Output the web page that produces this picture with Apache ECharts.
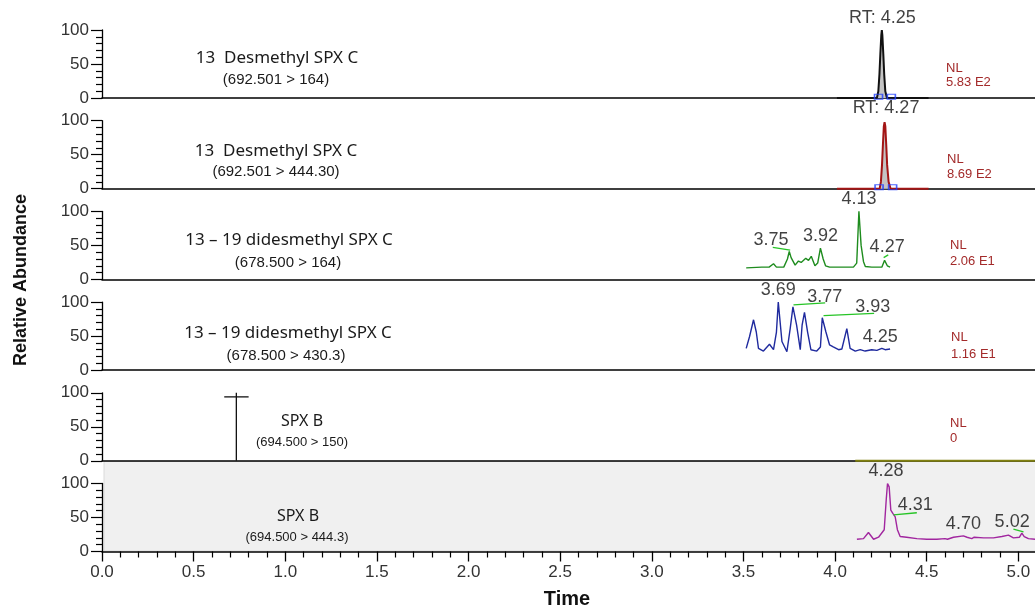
<!DOCTYPE html>
<html>
<head>
<meta charset="utf-8">
<script src="https://cdn.jsdelivr.net/npm/echarts@6/dist/echarts.min.js"></script>
<style>
html, body { margin: 0; padding: 0; background: #fff; }
#chart { width: 1035px; height: 612px; }
</style>
</head>
<body>
<div id="chart"></div>
<script>
// chromatogram traces: retention time (min) and relative abundance (%)
const p1Time = [4.01, 4.228, 4.236, 4.242, 4.247, 4.252, 4.255, 4.258, 4.263, 4.268, 4.274, 4.283, 4.51]
const p1Abund = [0, 0, 10, 35, 65, 92, 100, 92, 65, 35, 10, 0, 0]

const p2Time = [4.01, 4.243, 4.25, 4.256, 4.261, 4.266, 4.27, 4.274, 4.279, 4.284, 4.292, 4.303, 4.51]
const p2Abund = [0, 0, 10, 35, 65, 92, 98, 92, 65, 35, 10, 0, 0]

const p3Time = [3.515, 3.60, 3.64, 3.664, 3.68, 3.72, 3.74, 3.75, 3.76, 3.782, 3.80, 3.815, 3.84, 3.855, 3.87, 3.89, 3.905, 3.92, 3.935, 3.948, 3.97, 4.00, 4.05, 4.10, 4.118, 4.13, 4.142, 4.155, 4.165, 4.20, 4.255, 4.27, 4.285, 4.30]
const p3Abund = [17, 18, 18, 23, 18, 18, 30, 41, 32, 21, 27, 25, 31, 28, 34, 20, 24, 46, 30, 20, 18, 18, 18, 18, 24, 100, 50, 26, 19, 18, 18, 28, 20, 18]

const p4Time = [3.515, 3.533, 3.54, 3.555, 3.57, 3.582, 3.609, 3.642, 3.664, 3.68, 3.69, 3.71, 3.737, 3.755, 3.77, 3.79, 3.81, 3.82, 3.833, 3.85, 3.868, 3.90, 3.92, 3.93, 3.95, 3.97, 3.99, 4.019, 4.037, 4.064, 4.082, 4.11, 4.137, 4.164, 4.20, 4.228, 4.255, 4.273, 4.30]
const p4Abund = [32, 49, 47, 74, 56, 32, 28, 38, 30, 56, 100, 42, 27, 61, 93, 66, 30, 66, 85, 56, 30, 28, 34, 77, 56, 37, 34, 30, 31, 61, 32, 28, 30, 28, 30, 29, 32, 30, 31]

const p5Time = [4.11, 5.09]
const p5Abund = [0, 0]

const p6Time = [4.119, 4.155, 4.182, 4.21, 4.237, 4.268, 4.279, 4.286, 4.295, 4.304, 4.315, 4.328, 4.34, 4.355, 4.39, 4.446, 4.50, 4.555, 4.60, 4.613, 4.646, 4.70, 4.72, 4.746, 4.759, 4.81, 4.864, 4.91, 4.946, 4.973, 5.006, 5.019, 5.032, 5.055, 5.092]
const p6Abund = [18, 19, 28, 18, 21, 32, 76, 100, 95, 61, 56, 51, 32, 22, 21, 19, 18, 18, 19, 18, 21, 23, 21, 19, 21, 20, 20, 22, 24, 20, 21, 27, 22, 19, 18]

// peak labels: [time, abundance, text]
const p1Labels = [[4.258, 118, 'RT: 4.25']]
const p2Labels = [[4.278, 118, 'RT: 4.27']]
const p3Labels = [[3.65, 58, '3.75'], [3.92, 64, '3.92'], [4.13, 118, '4.13'], [4.284, 48, '4.27']]
const p4Labels = [[3.69, 118, '3.69'], [3.943, 108, '3.77'], [4.205, 93, '3.93'], [4.246, 49, '4.25']]
const p5Labels = []
const p6Labels = [[4.278, 119, '4.28'], [4.437, 68, '4.31'], [4.70, 41, '4.70'], [4.966, 44, '5.02']]

// label leader lines: [t1, a1, t2, a2]
const p3Leaders = [[3.66, 47, 3.755, 43], [4.265, 32, 4.29, 36]]
const p4Leaders = [[3.773, 96, 3.946, 99], [3.937, 80, 4.213, 83.5]]
const p6Leaders = [[4.319, 54, 4.446, 57], [4.973, 33, 5.028, 29]]

// integration boundary markers
const p1Boxes = [[4.237, 2], [4.307, 2]]
const p2Boxes = [[4.24, 2], [4.314, 2]]

// event marker on SPX B (694.500 > 150)
const p5MarkerTime = 0.733
const p5MarkerTop = 100
const p5CrossTime = [0.667, 0.80]
const p5CrossAbund = 94

const panelTitles = ['13  Desmethyl SPX C', '13  Desmethyl SPX C', '13 – 19 didesmethyl SPX C', '13 – 19 didesmethyl SPX C', 'SPX B', 'SPX B']
const panelTransitions = ['(692.501 > 164)', '(692.501 > 444.30)', '(678.500 > 164)', '(678.500 > 430.3)', '(694.500 > 150)', '(694.500 > 444.3)']
const panelNL = ['5.83 E2', '8.69 E2', '2.06 E1', '1.16 E1', '0', null]

const zip = (a, b) => a.map((v, i) => [v, b[i]])

const panels = [
  { time: p1Time, abund: p1Abund, color: '#111111', width: 2, area: true, labels: p1Labels, leaders: [], boxes: p1Boxes },
  { time: p2Time, abund: p2Abund, color: '#a31515', width: 2, area: true, labels: p2Labels, leaders: [], boxes: p2Boxes },
  { time: p3Time, abund: p3Abund, color: '#1e8c1e', width: 1.4, area: false, labels: p3Labels, leaders: p3Leaders, boxes: [] },
  { time: p4Time, abund: p4Abund, color: '#1f2a9e', width: 1.4, area: false, labels: p4Labels, leaders: p4Leaders, boxes: [] },
  { time: p5Time, abund: p5Abund, color: '#808010', width: 2, area: false, labels: p5Labels, leaders: [], boxes: [] },
  { time: p6Time, abund: p6Abund, color: '#a1269f', width: 1.4, area: false, labels: p6Labels, leaders: p6Leaders, boxes: [] }
]

const PANEL_TOP = 30
const PANEL_STEP = 90.7
const PANEL_H = 68

// the time axis runs past the right edge of the window (5.0 sits near x=1019)
const grids = panels.map((p, i) => ({
  left: 102,
  width: 1008,
  top: PANEL_TOP + PANEL_STEP * i,
  height: PANEL_H,
  outerBoundsMode: 'none',
  containLabel: false
}))

const xAxes = panels.map((p, i) => {
  const last = i === panels.length - 1
  return {
    gridIndex: i,
    type: 'value',
    min: 0,
    max: 5.5,
    interval: 0.5,
    axisLine: { show: true, onZero: false, lineStyle: { color: '#000', width: 1.5 } },
    axisTick: { show: last, length: 10, lineStyle: { color: '#000', width: 1.3 } },
    minorTick: { show: last, splitNumber: 5, length: 6, lineStyle: { color: '#000', width: 1.2 } },
    axisLabel: {
      show: last,
      fontSize: 17,
      color: '#333',
      margin: 12,
      fontFamily: 'Liberation Sans, Arial, sans-serif',
      formatter: v => v.toFixed(1)
    },
    splitLine: { show: false },
    minorSplitLine: { show: false }
  }
})

const yAxes = panels.map((p, i) => ({
  gridIndex: i,
  type: 'value',
  min: 0,
  max: 100,
  interval: 50,
  axisLine: { show: true, lineStyle: { color: '#000', width: 1.3 } },
  axisTick: { show: true, length: 11, lineStyle: { color: '#000', width: 1.2 } },
  minorTick: { show: true, splitNumber: 5, length: 6, lineStyle: { color: '#000', width: 1.2 } },
  axisLabel: { fontSize: 17, color: '#333', margin: 13, fontFamily: 'Liberation Sans, Arial, sans-serif' },
  splitLine: { show: false }
}))

const series = []
panels.forEach((p, i) => {
  series.push({
    type: 'line',
    xAxisIndex: i,
    yAxisIndex: i,
    data: zip(p.time, p.abund),
    symbol: 'none',
    clip: false,
    z: 3,
    lineStyle: { color: p.color, width: p.width },
    areaStyle: p.area ? { color: '#c4c4c4', opacity: 1 } : null
  })
  p.leaders.forEach(l => {
    series.push({
      type: 'line',
      xAxisIndex: i,
      yAxisIndex: i,
      data: [[l[0], l[1]], [l[2], l[3]]],
      symbol: 'none',
      clip: false,
      z: 4,
      lineStyle: { color: '#26c426', width: 1.3 }
    })
  })
  if (p.boxes.length) {
    series.push({
      type: 'scatter',
      xAxisIndex: i,
      yAxisIndex: i,
      data: p.boxes,
      symbol: 'rect',
      symbolSize: [8, 5],
      clip: false,
      z: 5,
      itemStyle: { color: 'rgba(255,255,255,0)', borderColor: '#1f3fff', borderWidth: 1.3 }
    })
  }
  if (p.labels.length) {
    series.push({
      type: 'scatter',
      xAxisIndex: i,
      yAxisIndex: i,
      data: p.labels.map(l => ({ value: [l[0], l[1]], name: l[2] })),
      symbolSize: 1,
      clip: false,
      z: 6,
      itemStyle: { color: 'rgba(0,0,0,0)' },
      label: {
        show: true,
        position: 'inside',
        formatter: '{b}',
        fontSize: 18,
        color: '#111',
        fontFamily: 'Liberation Sans, Arial, sans-serif'
      }
    })
  }
})

// vertical event marker with cross bar in the SPX B (> 150) panel
series.push({
  type: 'line',
  xAxisIndex: 4,
  yAxisIndex: 4,
  data: [[p5MarkerTime, 0], [p5MarkerTime, p5MarkerTop]],
  symbol: 'none',
  clip: false,
  lineStyle: { color: '#111', width: 1.3 }
})
series.push({
  type: 'line',
  xAxisIndex: 4,
  yAxisIndex: 4,
  data: [[p5CrossTime[0], p5CrossAbund], [p5CrossTime[1], p5CrossAbund]],
  symbol: 'none',
  clip: false,
  lineStyle: { color: '#111', width: 1.3 }
})

// texts
const titleX = [277, 276, 289, 288, 302, 298]
const titleY = [58, 151, 240, 333, 421, 516]
const transX = [276, 276, 288, 286, 302, 297]
const transY = [80, 172, 263, 356, 442, 537]
const titleSize = [17, 17, 17, 17, 16, 16]
const transSize = [15, 15, 15, 15, 13, 13]
const nlX = [946, 947, 950, 951, 950]
const nlY = [68, 159, 245.5, 337, 423]
const nlValY = [82.5, 174, 261.5, 354, 438.5]

const graphics = [
  {
    type: 'rect',
    z: -10,
    shape: { x: 104, y: 461.5, width: 935, height: 89.5 },
    style: { fill: '#f0f0f0', stroke: '#dadada', lineWidth: 1 }
  },
  {
    type: 'text',
    x: 21,
    y: 280,
    rotation: Math.PI / 2,
    style: {
      text: 'Relative Abundance',
      fill: '#111',
      fontSize: 18,
      fontWeight: 'bold',
      fontFamily: 'Liberation Sans Narrow, Arial Narrow, Liberation Sans, sans-serif',
      align: 'center',
      verticalAlign: 'middle'
    }
  },
  {
    type: 'text',
    x: 567,
    y: 599,
    style: {
      text: 'Time',
      fill: '#111',
      fontSize: 20,
      fontWeight: 'bold',
      fontFamily: 'Liberation Sans Narrow, Arial Narrow, Liberation Sans, sans-serif',
      align: 'center',
      verticalAlign: 'middle'
    }
  }
]

panelTitles.forEach((t, i) => {
  graphics.push({
    type: 'text',
    x: titleX[i],
    y: titleY[i],
    style: { text: t, fill: '#1a1a1a', fontSize: titleSize[i], fontFamily: 'Noto Sans, Open Sans, sans-serif', align: 'center', verticalAlign: 'middle' }
  })
  graphics.push({
    type: 'text',
    x: transX[i],
    y: transY[i],
    style: { text: panelTransitions[i], fill: '#1a1a1a', fontSize: transSize[i], fontFamily: 'Liberation Sans, Arial, sans-serif', align: 'center', verticalAlign: 'middle' }
  })
})

panelNL.forEach((v, i) => {
  if (v === null) return
  const font = { fill: '#a32a2a', fontSize: 13, fontFamily: 'Liberation Sans Narrow, Arial Narrow, Liberation Sans, sans-serif', align: 'left', verticalAlign: 'middle' }
  graphics.push({ type: 'text', x: nlX[i], y: nlY[i], style: Object.assign({ text: 'NL' }, font) })
  graphics.push({ type: 'text', x: nlX[i], y: nlValY[i], style: Object.assign({ text: v }, font) })
})

const chart = echarts.init(document.getElementById('chart'))
chart.setOption({
  animation: false,
  backgroundColor: '#fff',
  grid: grids,
  xAxis: xAxes,
  yAxis: yAxes,
  series: series,
  graphic: { elements: graphics }
})
</script>
</body>
</html>
